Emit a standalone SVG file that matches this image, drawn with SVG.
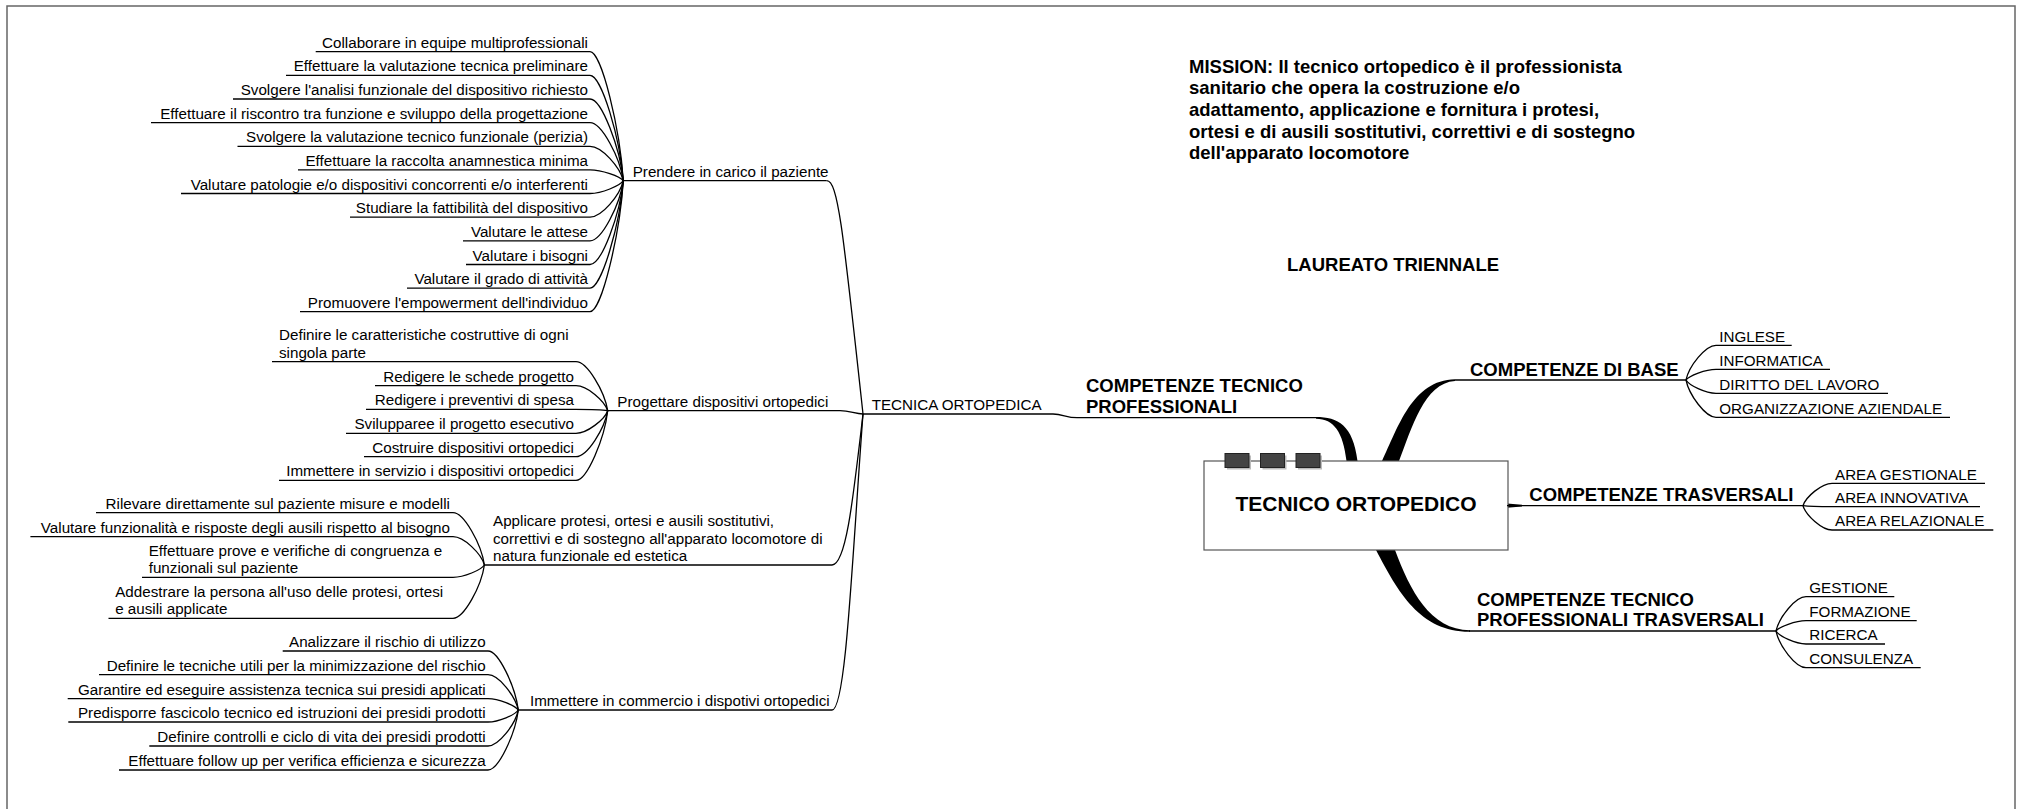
<svg xmlns="http://www.w3.org/2000/svg" width="2022" height="809" viewBox="0 0 2022 809">
<style>
text{font-family:"Liberation Sans",Arial,Helvetica,sans-serif;fill:#000}
.t{font-size:15.2px}
.r{text-anchor:end}
.b{font-size:18.5px;font-weight:bold}
.ul{stroke:#000;stroke-width:1.3;fill:none}
.c path{stroke:#000;stroke-width:1.3;fill:none}
.c path.w{stroke:none;fill:#000}
.sq{fill:#444;stroke:#222;stroke-width:1}
.sh{fill:#bbb}
</style>
<rect x="7" y="6" width="2008" height="830" fill="#fff" stroke="#666" stroke-width="1.5"/>

<g id="mission">
<text class="b" x="1189" y="72.6">MISSION: Il tecnico ortopedico è il professionista</text>
<text class="b" x="1189" y="94.3">sanitario che opera la costruzione e/o</text>
<text class="b" x="1189" y="116">adattamento, applicazione e fornitura i protesi,</text>
<text class="b" x="1189" y="137.7">ortesi e di ausili sostitutivi, correttivi e di sostegno</text>
<text class="b" x="1189" y="159.4">dell'apparato locomotore</text>
</g>
<g id="laureato"><text class="b" x="1287" y="270.5">LAUREATO TRIENNALE</text></g>

<g class="c" id="connectors">
<!-- Prendere children -->
<path d="M590,51.7 C601.7,51.7 620,129.1 623.3,180.7"/>
<path d="M590,75.3 C601.7,75.3 620,138.5 623.3,180.7"/>
<path d="M590,99 C601.7,99 620,148 623.3,180.7"/>
<path d="M590,122.6 C601.7,122.6 620,157.5 623.3,180.7"/>
<path d="M590,146.3 C601.7,146.3 620,166.9 623.3,180.7"/>
<path d="M590,169.9 C601.7,169.9 620,176.4 623.3,180.7"/>
<path d="M590,193.5 C601.7,193.5 620,185.8 623.3,180.7"/>
<path d="M590,217.2 C601.7,217.2 620,195.3 623.3,180.7"/>
<path d="M590,240.8 C601.7,240.8 620,204.7 623.3,180.7"/>
<path d="M590,264.5 C601.7,264.5 620,214.2 623.3,180.7"/>
<path d="M590,288.1 C601.7,288.1 620,223.7 623.3,180.7"/>
<path d="M590,311.7 C601.7,311.7 620,233.1 623.3,180.7"/>
<!-- Progettare children -->
<path d="M576,361.7 C587.1,361.7 604.5,391.1 607.7,410.7"/>
<path d="M576,385.7 C587.1,385.7 604.5,400.7 607.7,410.7"/>
<path d="M576,409.3 C587.1,409.3 604.5,410.1 607.7,410.7"/>
<path d="M576,433.3 C587.1,433.3 604.5,419.7 607.7,410.7"/>
<path d="M576,456.7 C587.1,456.7 604.5,429.1 607.7,410.7"/>
<path d="M576,480.3 C587.1,480.3 604.5,438.5 607.7,410.7"/>
<!-- Applicare children -->
<path d="M453,512.7 C464,512.7 481.3,544.1 484.4,565"/>
<path d="M453,536.7 C464,536.7 481.3,553.7 484.4,565"/>
<path d="M453,577.3 C464,577.3 481.3,569.9 484.4,565"/>
<path d="M453,618.3 C464,618.3 481.3,586.3 484.4,565"/>
<!-- Immettere children -->
<path d="M488,651 C498.6,651 515.3,686.4 518.3,710"/>
<path d="M488,674.7 C498.6,674.7 515.3,695.9 518.3,710"/>
<path d="M488,698.7 C498.6,698.7 515.3,705.5 518.3,710"/>
<path d="M488,722 C498.6,722 515.3,714.8 518.3,710"/>
<path d="M488,746 C498.6,746 515.3,724.4 518.3,710"/>
<path d="M488,770 C498.6,770 515.3,734 518.3,710"/>
<!-- level 2 to TECNICA ORTOPEDICA -->
<path d="M826.7,180.7 C838,180.7 843,230 863,414"/>
<path d="M840,410.7 C850,410.7 855,414 863,414"/>
<path d="M832,565 C846,565 853,500 863,414"/>
<path d="M832,710 C846,710 852,560 863,414"/>
<!-- TECNICA to COMPETENZE TECNICO PROFESSIONALI -->
<path d="M1053,414 C1063,414 1066,417.7 1077,417.7"/>
<!-- wedges from central topic -->
<path class="w" d="M1316,417 C1338,417 1353,425 1357.5,461 L1346.5,461 C1343,432 1334,419 1316,418.8 Z"/>
<path class="w" d="M1382,461 C1398,428 1412,380 1455,379.2 L1455,381 C1424,383 1412,428 1399,461 Z"/>
<path class="w" d="M1376,550 C1398,592 1420,632 1470,631.8 L1470,630.2 C1430,630 1410,590 1395,550 Z"/>
<path class="w" d="M1507,503.6 L1522,504.8 L1522,506.6 L1507,507.8 Z"/>
<!-- right leaves -->
<path d="M1686,380 C1689,366.1 1705.5,345.3 1716,345.3"/>
<path d="M1686,380 C1689,375.7 1705.5,369.3 1716,369.3"/>
<path d="M1686,380 C1689,385.3 1705.5,393.3 1716,393.3"/>
<path d="M1686,380 C1689,394.9 1705.5,417.3 1716,417.3"/>
<path d="M1803,505.7 C1805.9,496.7 1821.9,483.3 1832,483.3"/>
<path d="M1803,505.7 C1805.9,506.1 1821.9,506.7 1832,506.7"/>
<path d="M1803,505.7 C1805.9,515.4 1821.9,530 1832,530"/>
<path d="M1776,631 C1779,617.3 1795.5,596.7 1806,596.7"/>
<path d="M1776,631 C1779,626.9 1795.5,620.7 1806,620.7"/>
<path d="M1776,631 C1779,636.2 1795.5,644 1806,644"/>
<path d="M1776,631 C1779,645.7 1795.5,667.7 1806,667.7"/>
</g>

<!-- Central topic -->
<g id="central">
<rect x="1204" y="461" width="304" height="89" fill="#fff" stroke="#555" stroke-width="1.2"/>
<rect class="sh" x="1227" y="455.5" width="24" height="14"/>
<rect class="sq" x="1225" y="453.5" width="24" height="14"/>
<rect class="sh" x="1262.5" y="455.5" width="24" height="14"/>
<rect class="sq" x="1260.5" y="453.5" width="24" height="14"/>
<rect class="sh" x="1298" y="455.5" width="24" height="14"/>
<rect class="sq" x="1296" y="453.5" width="24" height="14"/>
<text x="1356" y="510.7" font-size="21" font-weight="bold" text-anchor="middle">TECNICO ORTOPEDICO</text>
</g>

<!-- Main topics -->
<g id="ctp">
<text class="b" x="1086" y="392.3">COMPETENZE TECNICO</text>
<text class="b" x="1086" y="412.7">PROFESSIONALI</text>
<line class="ul" x1="1077" y1="417.7" x2="1316" y2="417.7"/>
</g>
<g id="cbase">
<text class="b" x="1470" y="376">COMPETENZE DI BASE</text>
<line class="ul" x1="1455" y1="380" x2="1686" y2="380"/>
</g>
<g id="ctrasv">
<text class="b" x="1529.3" y="501">COMPETENZE TRASVERSALI</text>
<line class="ul" x1="1507" y1="505.7" x2="1803" y2="505.7"/>
</g>
<g id="ctpt">
<text class="b" x="1477" y="605.6">COMPETENZE TECNICO</text>
<text class="b" x="1477" y="626">PROFESSIONALI TRASVERSALI</text>
<line class="ul" x1="1469" y1="631" x2="1776" y2="631"/>
</g>

<!-- Right leaves -->
<g id="inglese"><text class="t" x="1719.3" y="341.5">INGLESE</text><line class="ul" x1="1716" y1="345.3" x2="1791.7" y2="345.3"/></g>
<g id="informatica"><text class="t" x="1719.3" y="365.5">INFORMATICA</text><line class="ul" x1="1716" y1="369.3" x2="1830" y2="369.3"/></g>
<g id="diritto"><text class="t" x="1719.3" y="389.5">DIRITTO DEL LAVORO</text><line class="ul" x1="1716" y1="393.3" x2="1888" y2="393.3"/></g>
<g id="organizzazione"><text class="t" x="1719.3" y="413.5">ORGANIZZAZIONE AZIENDALE</text><line class="ul" x1="1716" y1="417.3" x2="1950" y2="417.3"/></g>
<g id="gestionale"><text class="t" x="1835" y="479.5">AREA GESTIONALE</text><line class="ul" x1="1832" y1="483.3" x2="1985" y2="483.3"/></g>
<g id="innovativa"><text class="t" x="1835" y="502.9">AREA INNOVATIVA</text><line class="ul" x1="1832" y1="506.7" x2="1980" y2="506.7"/></g>
<g id="relazionale"><text class="t" x="1835" y="526.2">AREA RELAZIONALE</text><line class="ul" x1="1832" y1="530" x2="1993.3" y2="530"/></g>
<g id="gestione"><text class="t" x="1809.3" y="592.9">GESTIONE</text><line class="ul" x1="1806" y1="596.7" x2="1894.3" y2="596.7"/></g>
<g id="formazione"><text class="t" x="1809.3" y="616.9">FORMAZIONE</text><line class="ul" x1="1806" y1="620.7" x2="1916.7" y2="620.7"/></g>
<g id="ricerca"><text class="t" x="1809.3" y="640.2">RICERCA</text><line class="ul" x1="1806" y1="644" x2="1885" y2="644"/></g>
<g id="consulenza"><text class="t" x="1809.3" y="663.9">CONSULENZA</text><line class="ul" x1="1806" y1="667.7" x2="1920.7" y2="667.7"/></g>

<!-- TECNICA ORTOPEDICA -->
<g id="tecnica">
<text class="t" x="871.7" y="410">TECNICA ORTOPEDICA</text>
<line class="ul" x1="863" y1="414" x2="1053" y2="414"/>
</g>

<!-- Level 2 -->
<g id="prendere">
<text class="t" x="632.7" y="176.7">Prendere in carico il paziente</text>
<line class="ul" x1="623.3" y1="180.7" x2="826.7" y2="180.7"/>
</g>
<g id="progettare">
<text class="t" x="617.3" y="406.7">Progettare dispositivi ortopedici</text>
<line class="ul" x1="607.7" y1="410.7" x2="840" y2="410.7"/>
</g>
<g id="applicare">
<text class="t" x="493" y="526.4">Applicare protesi, ortesi e ausili sostitutivi,</text>
<text class="t" x="493" y="543.7">correttivi e di sostegno all'apparato locomotore di</text>
<text class="t" x="493" y="561">natura funzionale ed estetica</text>
<line class="ul" x1="484.4" y1="565" x2="832" y2="565"/>
</g>
<g id="immettere">
<text class="t" x="530" y="706">Immettere in commercio i dispotivi ortopedici</text>
<line class="ul" x1="518.3" y1="710" x2="832" y2="710"/>
</g>

<!-- Prendere leaves -->
<g id="p1"><text class="t r" x="588" y="47.7">Collaborare in equipe multiprofessionali</text><line class="ul" x1="315.7" y1="51.7" x2="590" y2="51.7"/></g>
<g id="p2"><text class="t r" x="588" y="71.3">Effettuare la valutazione tecnica preliminare</text><line class="ul" x1="286" y1="75.3" x2="590" y2="75.3"/></g>
<g id="p3"><text class="t r" x="588" y="95">Svolgere l'analisi funzionale del dispositivo richiesto</text><line class="ul" x1="233" y1="99" x2="590" y2="99"/></g>
<g id="p4"><text class="t r" x="588" y="118.6">Effettuare il riscontro tra funzione e sviluppo della progettazione</text><line class="ul" x1="151" y1="122.6" x2="590" y2="122.6"/></g>
<g id="p5"><text class="t r" x="588" y="142.3">Svolgere la valutazione tecnico funzionale (perizia)</text><line class="ul" x1="237.5" y1="146.3" x2="590" y2="146.3"/></g>
<g id="p6"><text class="t r" x="588" y="165.9">Effettuare la raccolta anamnestica minima</text><line class="ul" x1="298" y1="169.9" x2="590" y2="169.9"/></g>
<g id="p7"><text class="t r" x="588" y="189.5">Valutare patologie e/o dispositivi concorrenti e/o interferenti</text><line class="ul" x1="181" y1="193.5" x2="590" y2="193.5"/></g>
<g id="p8"><text class="t r" x="588" y="213.2">Studiare la fattibilità del dispositivo</text><line class="ul" x1="350" y1="217.2" x2="590" y2="217.2"/></g>
<g id="p9"><text class="t r" x="588" y="236.8">Valutare le attese</text><line class="ul" x1="463" y1="240.8" x2="590" y2="240.8"/></g>
<g id="p10"><text class="t r" x="588" y="260.5">Valutare i bisogni</text><line class="ul" x1="466" y1="264.5" x2="590" y2="264.5"/></g>
<g id="p11"><text class="t r" x="588" y="284.1">Valutare il grado di attività</text><line class="ul" x1="407" y1="288.1" x2="590" y2="288.1"/></g>
<g id="p12"><text class="t r" x="588" y="307.7">Promuovere l'empowerment dell'individuo</text><line class="ul" x1="300" y1="311.7" x2="590" y2="311.7"/></g>

<!-- Progettare leaves -->
<g id="g1"><text class="t" x="279" y="340.4">Definire le caratteristiche costruttive di ogni</text><text class="t" x="279" y="357.7">singola parte</text><line class="ul" x1="272" y1="361.7" x2="576" y2="361.7"/></g>
<g id="g2"><text class="t r" x="574" y="381.7">Redigere le schede progetto</text><line class="ul" x1="375" y1="385.7" x2="576" y2="385.7"/></g>
<g id="g3"><text class="t r" x="574" y="405.3">Redigere i preventivi di spesa</text><line class="ul" x1="366" y1="409.3" x2="576" y2="409.3"/></g>
<g id="g4"><text class="t r" x="574" y="429.3">Svilupparee il progetto esecutivo</text><line class="ul" x1="346" y1="433.3" x2="576" y2="433.3"/></g>
<g id="g5"><text class="t r" x="574" y="452.7">Costruire dispositivi ortopedici</text><line class="ul" x1="364" y1="456.7" x2="576" y2="456.7"/></g>
<g id="g6"><text class="t r" x="574" y="476.3">Immettere in servizio i dispositivi ortopedici</text><line class="ul" x1="279" y1="480.3" x2="576" y2="480.3"/></g>

<!-- Applicare leaves -->
<g id="a1"><text class="t r" x="450" y="508.7">Rilevare direttamente sul paziente misure e modelli</text><line class="ul" x1="96" y1="512.7" x2="453" y2="512.7"/></g>
<g id="a2"><text class="t r" x="450" y="532.7">Valutare funzionalità e risposte degli ausili rispetto al bisogno</text><line class="ul" x1="30.4" y1="536.7" x2="453" y2="536.7"/></g>
<g id="a3"><text class="t" x="148.7" y="556">Effettuare prove e verifiche di congruenza e</text><text class="t" x="148.7" y="573.3">funzionali sul paziente</text><line class="ul" x1="142" y1="577.3" x2="453" y2="577.3"/></g>
<g id="a4"><text class="t" x="115.2" y="597">Addestrare la persona all'uso delle protesi, ortesi</text><text class="t" x="115.2" y="614.3">e ausili applicate</text><line class="ul" x1="108.5" y1="618.3" x2="453" y2="618.3"/></g>

<!-- Immettere leaves -->
<g id="i1"><text class="t r" x="485.7" y="647">Analizzare il rischio di utilizzo</text><line class="ul" x1="282.7" y1="651" x2="488" y2="651"/></g>
<g id="i2"><text class="t r" x="485.7" y="670.7">Definire le tecniche utili per la minimizzazione del rischio</text><line class="ul" x1="99" y1="674.7" x2="488" y2="674.7"/></g>
<g id="i3"><text class="t r" x="485.7" y="694.7">Garantire ed eseguire assistenza tecnica sui presidi applicati</text><line class="ul" x1="67.7" y1="698.7" x2="488" y2="698.7"/></g>
<g id="i4"><text class="t r" x="485.7" y="718">Predisporre fascicolo tecnico ed istruzioni dei presidi prodotti</text><line class="ul" x1="68.3" y1="722" x2="488" y2="722"/></g>
<g id="i5"><text class="t r" x="485.7" y="742">Definire controlli e ciclo di vita dei presidi prodotti</text><line class="ul" x1="149.3" y1="746" x2="488" y2="746"/></g>
<g id="i6"><text class="t r" x="485.7" y="766">Effettuare follow up per verifica efficienza e sicurezza</text><line class="ul" x1="119" y1="770" x2="488" y2="770"/></g>
</svg>
